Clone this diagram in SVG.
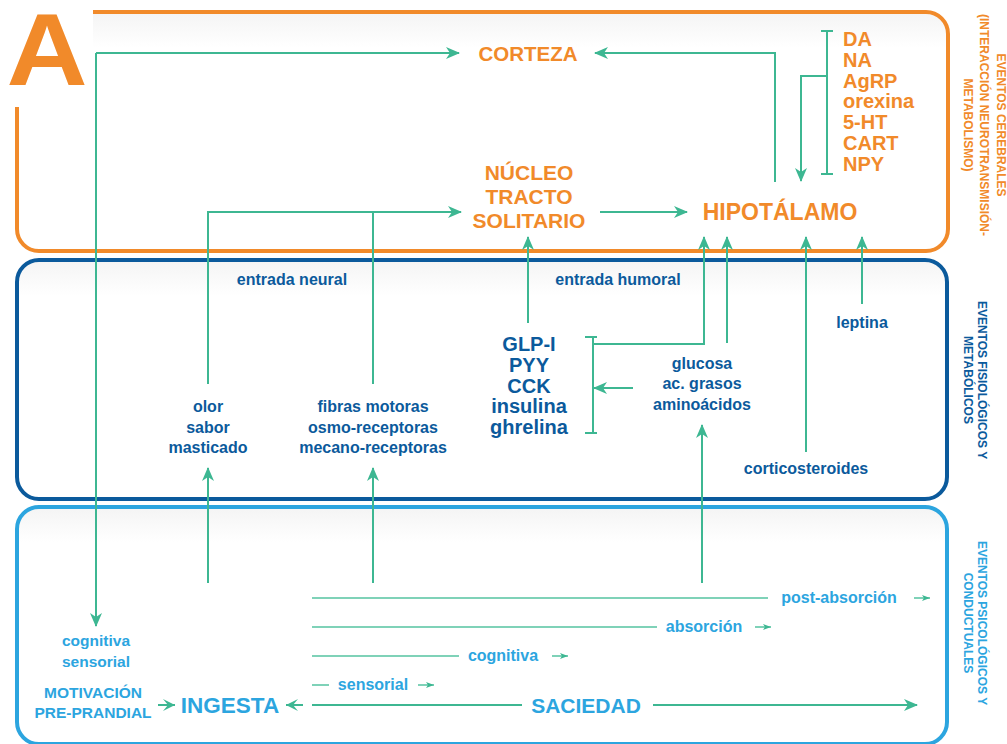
<svg xmlns="http://www.w3.org/2000/svg" width="1007" height="744" viewBox="0 0 1007 744">
<defs>
<linearGradient id="shade" x1="0" y1="0" x2="0" y2="1">
<stop offset="0" stop-color="#f4f4f4"/>
<stop offset="0.15" stop-color="#ffffff"/>
<stop offset="1" stop-color="#ffffff"/>
</linearGradient>
<marker id="ah" viewBox="0 0 14 12" refX="13" refY="6" markerWidth="14" markerHeight="12" markerUnits="userSpaceOnUse" orient="auto">
<path d="M0,0 L14,6 L0,12 L4,6 z" fill="#3DB792"/>
</marker>
<marker id="ahs" viewBox="0 0 8 6" refX="8" refY="3" markerWidth="8" markerHeight="6" markerUnits="userSpaceOnUse" orient="auto">
<path d="M0,0 L8,3 L0,6 L2,3 z" fill="#3DB792"/>
</marker>
<marker id="ahn" viewBox="0 0 12 12" refX="12" refY="6" markerWidth="12" markerHeight="12" markerUnits="userSpaceOnUse" orient="auto">
<path d="M0,0 L12,6 L0,12 L5,6 z" fill="#3DB792"/>
</marker>
</defs>
<style>
.box{fill:url(#shade);stroke-width:4}
.c{fill:none;stroke:#3DB792;stroke-width:2}
.t{fill:none;stroke:#55C3A0;stroke-width:1.5}
.f{font-family:"Liberation Sans",Arial,sans-serif;font-weight:bold}
.or{fill:#F18A2A}
.db{fill:#0B5A9C}
.lb{fill:#2CA5DF}
.m{text-anchor:middle}
</style>
<rect width="1007" height="744" fill="#ffffff"/>

<g id="panel-cerebral">
<path class="box" stroke="#F18A2A" d="M93,12 H926 A22,22 0 0 1 948,34 V229 A22,22 0 0 1 926,251 H39 A22,22 0 0 1 17,229 V107"/>
<text class="f or m" font-size="12" transform="translate(997,125) rotate(90)">EVENTOS CEREBRALES</text>
<text class="f or m" font-size="12" transform="translate(980,125) rotate(90)">(INTERACCIÓN NEUROTRANSMISIÓN-</text>
<text class="f or m" font-size="12" transform="translate(964,125) rotate(90)">METABOLISMO)</text>
</g>

<g id="panel-fisiologico">
<rect class="box" stroke="#0B5A9C" x="17" y="260" width="930" height="239" rx="22" ry="22"/>
<text class="f db m" font-size="12" transform="translate(978,380) rotate(90)">EVENTOS FISIOLÓGICOS Y</text>
<text class="f db m" font-size="12" transform="translate(964,380) rotate(90)">METABÓLICOS</text>
</g>

<g id="panel-conductual">
<rect class="box" stroke="#2CA5DF" x="17" y="507" width="930" height="237" rx="22" ry="22"/>
<text class="f lb m" font-size="12" transform="translate(978,623) rotate(90)">EVENTOS PSICOLÓGICOS Y</text>
<text class="f lb m" font-size="12" transform="translate(964,623) rotate(90)">CONDUCTUALES</text>
</g>

<g id="letter-A">
<rect x="0" y="0" width="93" height="104" fill="#ffffff"/>
<text class="f or m" font-size="102" transform="translate(47,85) scale(1.1,1)" x="0" y="0">A</text>
</g>

<g id="connectors">
<path class="c" d="M96,53 H459" marker-end="url(#ah)"/>
<path class="c" d="M96,53 V626" marker-end="url(#ah)"/>
<path class="c" d="M208,384 V212 H461" marker-end="url(#ah)"/>
<path class="c" d="M373,384 V212"/>
<path class="c" d="M600,212 H687" marker-end="url(#ah)"/>
<path class="c" d="M775,182 V53 H595" marker-end="url(#ah)"/>
<path class="c" d="M827,31 V174 M821,31 H833 M821,174 H833"/>
<path class="c" d="M827,76 H801 V181" marker-end="url(#ah)"/>
<path class="c" d="M528,323 V237" marker-end="url(#ah)"/>
<path class="c" d="M593,337 V433 M585,337 H597 M585,433 H597"/>
<path class="c" d="M593,344 H704 V237" marker-end="url(#ah)"/>
<path class="c" d="M727,343 V237" marker-end="url(#ah)"/>
<path class="c" d="M806,452 V237" marker-end="url(#ah)"/>
<path class="c" d="M862,304 V237" marker-end="url(#ah)"/>
<path class="c" d="M633,388 H594" marker-end="url(#ah)"/>
<path class="c" d="M208,583 V468" marker-end="url(#ah)"/>
<path class="c" d="M373,583 V468" marker-end="url(#ah)"/>
<path class="c" d="M702,583 V425" marker-end="url(#ah)"/>
<path class="t" d="M312,598 H768"/>
<path class="t" d="M914,598 H930" marker-end="url(#ahs)"/>
<path class="t" d="M312,627 H657"/>
<path class="t" d="M755,627 H771" marker-end="url(#ahs)"/>
<path class="t" d="M312,656 H459"/>
<path class="t" d="M552,656 H568" marker-end="url(#ahs)"/>
<path class="t" d="M312,685 H329"/>
<path class="t" d="M418,685 H434" marker-end="url(#ahs)"/>
<path class="c" d="M312,705 H522"/>
<path class="c" d="M653,705 H917" marker-end="url(#ah)"/>
<path class="c" d="M303,705 H286" marker-end="url(#ahn)"/>
<path class="c" d="M158,705 H175" marker-end="url(#ahn)"/>
</g>

<g id="corteza"><text class="f or m" font-size="20.5" x="528" y="61">CORTEZA</text></g>
<g id="nucleo">
<text class="f or m" font-size="21" x="529" y="180">NÚCLEO</text>
<text class="f or m" font-size="21" x="529" y="204">TRACTO</text>
<text class="f or m" font-size="21" x="529" y="228">SOLITARIO</text>
</g>
<g id="hipotalamo"><text class="f or m" font-size="23" x="780" y="220">HIPOTÁLAMO</text></g>
<g id="neurotransmisores">
<text class="f or" font-size="20" x="843" y="46">DA</text>
<text class="f or" font-size="20" x="843" y="67">NA</text>
<text class="f or" font-size="20" x="843" y="88">AgRP</text>
<text class="f or" font-size="20" x="843" y="108">orexina</text>
<text class="f or" font-size="20" x="843" y="129">5-HT</text>
<text class="f or" font-size="20" x="843" y="150">CART</text>
<text class="f or" font-size="20" x="843" y="171">NPY</text>
</g>

<g id="entrada-neural"><text class="f db m" font-size="16" x="292" y="285">entrada neural</text></g>
<g id="entrada-humoral"><text class="f db m" font-size="16" x="618" y="285">entrada humoral</text></g>
<g id="olor">
<text class="f db m" font-size="16" x="208" y="412">olor</text>
<text class="f db m" font-size="16" x="208" y="433">sabor</text>
<text class="f db m" font-size="16" x="208" y="453">masticado</text>
</g>
<g id="fibras">
<text class="f db m" font-size="16" x="373" y="412">fibras motoras</text>
<text class="f db m" font-size="16" x="373" y="433">osmo-receptoras</text>
<text class="f db m" font-size="16" x="373" y="453">mecano-receptoras</text>
</g>
<g id="hormonas">
<text class="f db m" font-size="20" x="529" y="351">GLP-I</text>
<text class="f db m" font-size="20" x="529" y="372">PYY</text>
<text class="f db m" font-size="20" x="529" y="393">CCK</text>
<text class="f db m" font-size="20" x="529" y="413">insulina</text>
<text class="f db m" font-size="20" x="529" y="434">ghrelina</text>
</g>
<g id="nutrientes">
<text class="f db m" font-size="16" x="702" y="369">glucosa</text>
<text class="f db m" font-size="16" x="702" y="389">ac. grasos</text>
<text class="f db m" font-size="16" x="702" y="410">aminoácidos</text>
</g>
<g id="leptina"><text class="f db m" font-size="16" x="862" y="328">leptina</text></g>
<g id="corticosteroides"><text class="f db m" font-size="16" x="806" y="474">corticosteroides</text></g>

<g id="cognitiva-sensorial">
<text class="f lb m" font-size="15.5" x="96" y="646">cognitiva</text>
<text class="f lb m" font-size="15.5" x="96" y="667">sensorial</text>
</g>
<g id="motivacion">
<text class="f lb m" font-size="15.5" x="93" y="698">MOTIVACIÓN</text>
<text class="f lb m" font-size="15.5" x="93" y="718">PRE-PRANDIAL</text>
</g>
<g id="ingesta"><text class="f lb m" font-size="22.5" x="230" y="713">INGESTA</text></g>
<g id="saciedad"><text class="f lb m" font-size="21" x="586" y="713">SACIEDAD</text></g>
<g id="fases">
<text class="f lb m" font-size="16" x="839" y="603">post-absorción</text>
<text class="f lb m" font-size="16" x="704" y="632">absorción</text>
<text class="f lb m" font-size="16" x="503" y="661">cognitiva</text>
<text class="f lb m" font-size="16" x="373" y="690">sensorial</text>
</g>
</svg>
